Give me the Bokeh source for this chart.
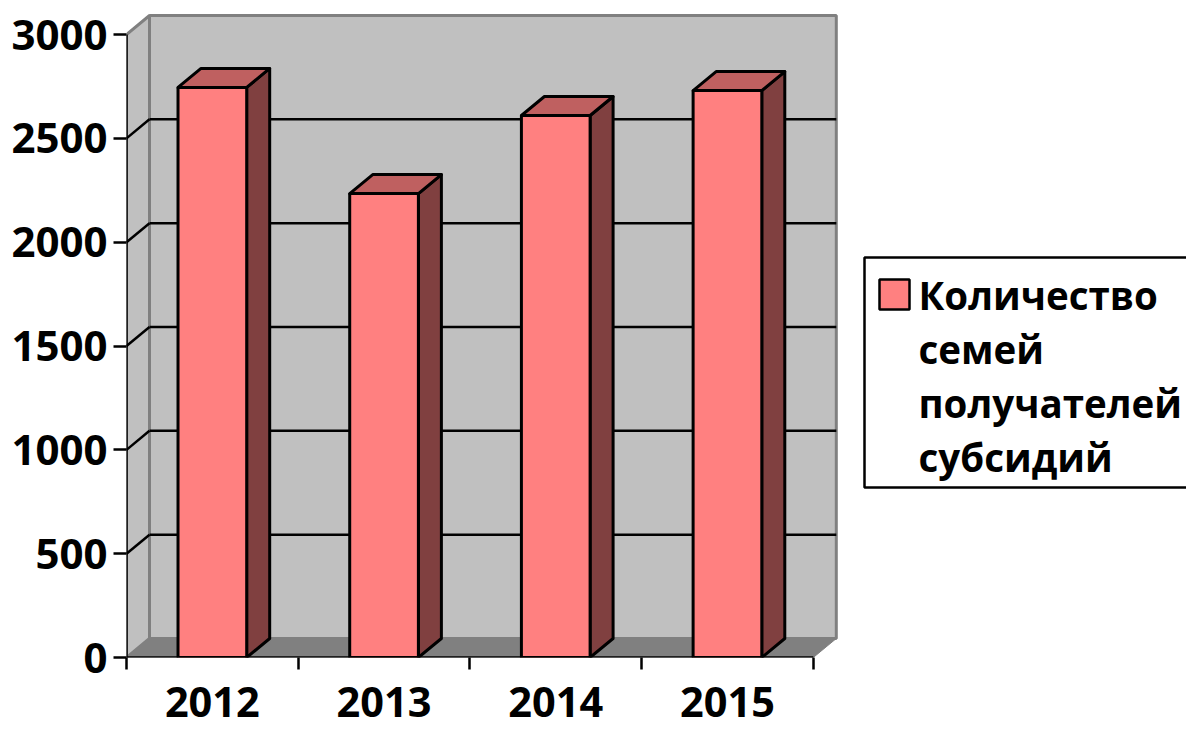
from bokeh.plotting import figure
from bokeh.models import FixedTicker
from bokeh.core.properties import value
from bokeh.embed import file_html
from bokeh.resources import INLINE

years = ["2012", "2013", "2014", "2015"]
families = [2745, 2234, 2610, 2730]
y_ticks = [0, 500, 1000, 1500, 2000, 2500, 3000]
legend_lines = ["Количество", "семей", "получателей", "субсидий"]

FONT = "Open Sans"
RED, RED_TOP, RED_SIDE = "#FF8080", "#BF6060", "#804040"
WALL, FLOOR, EDGE = "#C0C0C0", "#808080", "#808080"

W, H = 1186, 731
LEFT, BOTTOM = 126, 657
PX_PER_CAT = 171.7
PX_PER_UNIT = 623 / 3000
DX = 23 / PX_PER_CAT
DY = 19 / PX_PER_UNIT
BW = 0.4
n = len(years)
vmax = y_ticks[-1]


def X(px):
    return (px - LEFT) / PX_PER_CAT


def Y(py):
    return (BOTTOM - py) / PX_PER_UNIT


p = figure(width=W, height=H, output_backend="svg", toolbar_location=None,
           x_range=(0, X(W)), y_range=(0, Y(0)),
           min_border_left=LEFT, min_border_bottom=H - BOTTOM, min_border_top=0, min_border_right=0,
           outline_line_color=None, background_fill_color="white")
p.grid.visible = False

centers = [i + 0.5 for i in range(n)]
for ax, fs in ((p.xaxis[0], "41.5px"), (p.yaxis[0], "42px")):
    ax.axis_line_color = None
    ax.major_label_text_font = FONT
    ax.major_label_text_font_style = "bold"
    ax.major_label_text_font_size = fs
    ax.major_label_text_color = "black"

xa = p.xaxis[0]
xa.ticker = FixedTicker(ticks=centers, minor_ticks=list(range(n + 1)))
xa.major_label_overrides = {c: y for c, y in zip(centers, years)}
xa.major_tick_line_color = None
xa.major_tick_in = 0
xa.major_tick_out = 0
xa.minor_tick_in = 0
xa.minor_tick_out = 12
xa.minor_tick_line_color = "black"
xa.minor_tick_line_width = 2.5
xa.major_label_standoff = 17
xa.major_label_orientation = "horizontal"

ya = p.yaxis[0]
ya.ticker = FixedTicker(ticks=y_ticks)
ya.major_tick_in = 0
ya.major_tick_out = 13
ya.major_tick_line_color = "black"
ya.major_tick_line_width = 2.5
ya.minor_tick_line_color = None
ya.major_label_standoff = 6

# walls and floor
p.patch([0, DX, DX, 0], [0, DY, vmax + DY, vmax], fill_color=WALL, line_color=EDGE, line_width=3)
p.patch([DX, n + DX, n + DX, DX], [DY, DY, vmax + DY, vmax + DY], fill_color=WALL, line_color=EDGE, line_width=3)
p.patch([0, DX, n + DX, n], [0, DY, DY, 0], fill_color=FLOOR, line_color=FLOOR, line_width=1)

# gridlines on the back wall and the side wall
grid = y_ticks[1:-1]
p.segment([DX] * len(grid), [v + DY for v in grid], [n + DX] * len(grid), [v + DY for v in grid],
          line_color="black", line_width=2.5)
p.segment([0] * len(grid), grid, [DX] * len(grid), [v + DY for v in grid],
          line_color="black", line_width=2.5)

# axis lines of the front plane
p.segment([0, 0], [0, 0], [0, n], [vmax, 0], line_color="black", line_width=2.5)

# bars
lefts = [c - BW / 2 for c in centers]
rights = [c + BW / 2 for c in centers]
p.patches([[r, r + DX, r + DX, r] for r in rights],
          [[0, DY, v + DY, v] for v in families],
          fill_color=RED_SIDE, line_color="black", line_width=3, line_join="round")
p.patches([[l, l + DX, r + DX, r] for l, r in zip(lefts, rights)],
          [[v, v + DY, v + DY, v] for v in families],
          fill_color=RED_TOP, line_color="black", line_width=3, line_join="round")
p.quad(left=lefts, right=rights, bottom=0, top=families,
       fill_color=RED, line_color="black", line_width=3)

# legend
p.quad(left=[X(864)], right=[X(1200)], bottom=[Y(487)], top=[Y(257)],
       fill_color="white", line_color="black", line_width=2.5)
p.quad(left=[X(879)], right=[X(909)], bottom=[Y(309)], top=[Y(279)],
       fill_color=RED, line_color="black", line_width=2.5)
p.text(x=[X(918)] * 4, y=[Y(294 + 54 * i) for i in range(4)], text=legend_lines,
       text_font=value(FONT), text_font_style="bold", text_font_size="38.5px",
       text_baseline="middle", text_align="left", text_color="black")

open("out.html", "w").write(file_html(p, INLINE))
